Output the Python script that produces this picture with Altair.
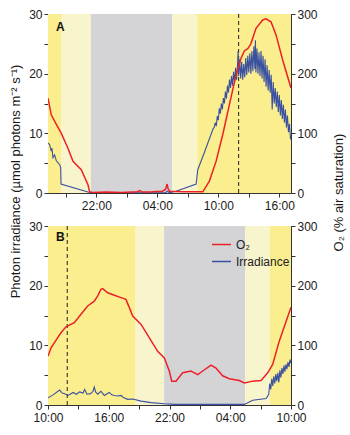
import altair as alt
import pandas as pd

RED = "#EC2127"
BLUE = "#3A50A2"
YEL = "#FAEE8E"
PALE = "#F8F4CC"
GREY = "#D4D4D6"

# ---------------- Panel A (hours counted from midnight of day 1) ----------------
a_o2_h = [17.25, 17.57, 18.07, 18.56, 19.21, 19.71, 20.52, 21.18, 21.34, 21.6,
          23.0, 24.5, 26.0, 26.3, 26.45, 26.6, 27.5, 28.5, 28.8, 28.97,
          29.05, 29.2, 30.5, 32.48, 33.12, 33.78, 34.44, 35.09, 35.75, 36.24,
          36.56, 36.9, 37.2, 37.71, 38.37, 38.69, 39.18, 39.68, 40.33, 41.15]
a_o2 = [159, 131, 115, 100, 75, 53, 39, 14, 2, 1,
        1.5, 1, 2, 4, 2, 1.5, 2, 3, 6, 15,
        8, 3, 2, 2, 20, 53, 98, 148, 198, 226,
        238, 242, 250, 276, 290, 292, 287, 265, 223, 176]

a_irr_h = [17.25, 17.41, 17.57, 17.64, 17.74, 17.9, 18.07, 18.4, 18.5, 18.53,
           21.18, 21.5, 28.8, 29.0, 29.2, 29.85, 31.82, 31.98, 32.5, 33.0,
           33.5, 33.6, 33.7, 33.8, 33.9, 34.0, 34.1, 34.2, 34.3, 34.4,
           34.5, 34.6, 34.7, 34.8, 34.9, 35.0, 35.1, 35.2, 35.3, 35.4,
           35.5, 35.6, 35.7, 35.8, 35.9, 35.95, 36.0, 36.1, 36.2, 36.3,
           36.4, 36.5, 36.6, 36.7, 36.8, 36.9, 37.0, 37.1, 37.2, 37.3,
           37.4, 37.5, 37.6, 37.65, 37.7, 37.8, 37.9, 38.0, 38.1, 38.2,
           38.3, 38.4, 38.5, 38.6, 38.7, 38.8, 38.9, 39.0, 39.1, 39.2,
           39.3, 39.4, 39.5, 39.6, 39.7, 39.8, 39.9, 40.0, 40.1, 40.2,
           40.3, 40.4, 40.5, 40.6, 40.7, 40.8, 40.9, 41.0, 41.1, 41.15]
a_irr = [8.4, 8.1, 7.0, 7.5, 5.9, 6.4, 5.4, 4.75, 4.2, 1.5,
         0.17, 0.05, 0.05, 0.3, 0.05, 0.28, 1.5, 3.9, 6.2, 8.5,
         10.8, 11.0, 11.8, 11.2, 12.9, 12.2, 14.2, 13.3, 15.0, 14.0,
         15.9, 15.0, 17.0, 15.8, 18.0, 16.8, 19.0, 17.6, 19.6, 18.0,
         20.3, 18.6, 21.0, 19.0, 21.8, 23.8, 19.6, 22.4, 19.2, 22.0,
         19.0, 21.6, 19.4, 22.6, 19.8, 23.0, 20.2, 23.4, 20.0, 23.8,
         20.4, 24.6, 20.8, 25.6, 20.2, 24.2, 20.0, 23.6, 19.6, 23.8,
         19.2, 23.0, 18.6, 22.4, 17.8, 21.4, 17.2, 20.6, 16.8, 19.8,
         14.0, 18.6, 15.0, 17.6, 14.4, 17.0, 13.6, 16.4, 13.0, 15.6,
         12.4, 14.8, 11.8, 14.0, 11.0, 13.0, 10.2, 11.6, 9.0, 9.6]

a_band_start = [17.25, 18.58, 21.47, 29.47, 31.93]
a_band_end = [18.58, 21.47, 29.47, 31.93, 41.15]
a_band_kind = ["day", "dusk", "night", "dusk", "day"]
a_dash = [36.0]
a_domain = [17.25, 41.15]
a_ticks = [19, 22, 25, 28, 31, 34, 37, 40]

# ---------------- Panel B ----------------
b_o2_h = [10.0, 10.3, 10.96, 11.28, 11.78, 12.6, 13.26, 13.92, 14.57, 14.91,
          15.23, 15.4, 15.9, 16.55, 17.21, 17.7, 18.37, 19.19, 20.0, 20.83,
          21.49, 21.98, 22.22, 22.64, 23.3, 24.12, 24.79, 25.28, 26.1, 26.59,
          27.25, 27.9, 28.89, 29.39, 30.22, 31.04, 31.7, 32.19, 32.84, 34.0]
b_o2 = [82, 96, 113, 121, 131, 138, 152, 166, 174, 183,
        194, 195, 188, 184, 180, 177, 149, 135, 113, 90,
        79, 57, 40, 40, 54, 57, 51, 57, 67, 62,
        49, 44, 41, 37, 40, 41, 54, 68, 107, 164]

b_irr_h = [10.0, 10.5, 11.15, 11.4, 11.65, 11.98, 12.48, 12.8, 13.13, 13.46,
           13.62, 13.85, 14.2, 14.45, 14.57, 14.7, 14.91, 15.23, 15.56, 16.05,
           16.3, 16.55, 16.9, 17.21, 17.5, 17.87, 18.37, 19.19, 20.17, 21.49,
           22.5, 29.39, 30.22, 31.55, 31.8, 31.9, 32.0, 32.1, 32.2, 32.3,
           32.4, 32.5, 32.6, 32.7, 32.8, 32.9, 33.0, 33.1, 33.2, 33.3,
           33.4, 33.5, 33.6, 33.7, 33.8, 33.9, 34.0]
b_irr = [1.2, 1.7, 2.5, 2.0, 1.9, 1.6, 2.1, 1.8, 2.2, 2.0,
         2.6, 1.8, 1.9, 2.3, 3.0, 2.2, 1.8, 2.3, 1.6, 2.1,
         1.7, 1.6, 1.5, 1.6, 1.2, 0.95, 1.0, 0.65, 0.4, 0.2,
         0.1, 0.1, 0.8, 1.1, 1.8, 3.6, 2.6, 4.4, 3.2, 4.8,
         3.6, 5.2, 4.0, 5.4, 3.8, 5.8, 4.6, 6.2, 5.2, 6.6,
         5.6, 6.8, 6.0, 7.2, 6.4, 7.6, 7.0]

b_band_start = [10.0, 18.6, 21.47, 29.47, 31.93]
b_band_end = [18.6, 21.47, 29.47, 31.93, 34.0]
b_band_kind = ["day", "dusk", "night", "dusk", "day"]
b_dash = [11.9]
b_domain = [10.0, 34.0]
b_ticks = [10, 13, 16, 19, 22, 25, 28, 31, 34]

series_names = ["O\u2082", "Irradiance"]
left_title = "Photon irradiance (\u00b5mol photons m\u207b\u00b2 s\u207b\u00b9)"
right_title = "O\u2082 (% air saturation)"

W, H = 243, 179
XLABEL = ("datum.value % 6 == 4 ? ((datum.value % 24 < 10 ? '0' : '') + "
          "(datum.value % 24) + ':00') : ''")


def panel(o2_h, o2, irr_h, irr, bs, be, bk, dash, dom, ticks, letter, letter_y,
          first):
    xs = alt.Scale(domain=dom, nice=False, zero=False)
    x_axis = alt.Axis(values=ticks, labelExpr=XLABEL, title=None, grid=False,
                      labelFlush=False, labelOverlap=False, labelPadding=3.5)
    cscale = alt.Scale(domain=series_names, range=[RED, BLUE])
    if first:
        legend = None
    else:
        legend = alt.Legend(orient="none", legendX=163, legendY=8, title=None,
                            symbolType="stroke", symbolSize=361,
                            symbolStrokeWidth=1.5, labelFontSize=12,
                            rowPadding=0, padding=0, labelOffset=4,
                            labelColor="#222")

    bands = alt.Chart(pd.DataFrame({"s": bs, "e": be, "k": bk})).mark_rect().encode(
        x=alt.X("s:Q", scale=xs, axis=x_axis),
        x2="e:Q",
        fill=alt.Fill("k:N", scale=alt.Scale(domain=["day", "dusk", "night"],
                                             range=[YEL, PALE, GREY]), legend=None),
    )
    rule = alt.Chart(pd.DataFrame({"d": dash})).mark_rule(
        color="#222", strokeDash=[4, 3], strokeWidth=1).encode(
        x=alt.X("d:Q", scale=xs, axis=x_axis))

    left_axis_kw = dict(orient="left", values=[0, 5, 10, 15, 20, 25, 30],
                        labelExpr="datum.value % 10 == 0 ? datum.label : ''",
                        grid=False)
    right_axis_kw = dict(orient="right", values=[0, 50, 100, 150, 200, 250, 300],
                         labelExpr="datum.value % 100 == 0 ? datum.label : ''",
                         grid=False)
    if first:
        left_axis_kw.update(title=left_title, titleAngle=270, titleX=-33,
                            titleY=167, titleAlign="center",
                            titleBaseline="middle")
        right_axis_kw.update(title=right_title, titleAngle=270, titleX=47,
                             titleY=178, titleAlign="center",
                             titleBaseline="middle")
    else:
        left_axis_kw.update(title=None)
        right_axis_kw.update(title=None)

    irr_df = pd.DataFrame({"h": irr_h, "v": irr, "s": series_names[1]})
    o2_df = pd.DataFrame({"h": o2_h, "v": o2, "s": series_names[0]})

    irr_line = alt.Chart(irr_df).mark_line(strokeWidth=1.1, clip=True).encode(
        x=alt.X("h:Q", scale=xs, axis=x_axis),
        y=alt.Y("v:Q", scale=alt.Scale(domain=[0, 30], nice=False),
                axis=alt.Axis(**left_axis_kw)),
        color=alt.Color("s:N", scale=cscale, legend=legend),
    )
    o2_line = alt.Chart(o2_df).mark_line(strokeWidth=1.5, clip=True).encode(
        x=alt.X("h:Q", scale=xs, axis=x_axis),
        y=alt.Y("v:Q", scale=alt.Scale(domain=[0, 300], nice=False),
                axis=alt.Axis(**right_axis_kw)),
        color=alt.Color("s:N", scale=cscale, legend=legend),
    )
    txt = alt.Chart(pd.DataFrame({"t": [letter]})).mark_text(
        fontWeight="bold", fontSize=12, align="left", baseline="middle",
        font="Liberation Sans", color="#111").encode(
        x=alt.value(8), y=alt.value(letter_y), text="t:N")

    return alt.layer(bands, rule, irr_line, o2_line, txt).resolve_scale(
        y="independent").properties(width=W, height=H)


pa = panel(a_o2_h, a_o2, a_irr_h, a_irr, a_band_start, a_band_end, a_band_kind,
           a_dash, a_domain, a_ticks, "A", 13, True)
pb = panel(b_o2_h, b_o2, b_irr_h, b_irr, b_band_start, b_band_end, b_band_kind,
           b_dash, b_domain, b_ticks, "B", 11, False)

chart = alt.vconcat(pa, pb, spacing=33, bounds="flush").resolve_scale(
    color="independent", fill="independent"
).properties(
    padding={"left": 8, "top": 7, "right": 4, "bottom": 4}
).configure(
    font="Liberation Sans"
).configure_view(
    stroke="#8a8a8a", strokeWidth=1
).configure_axis(
    labelFont="Liberation Sans", labelFontSize=12, labelColor="#1a1a1a",
    titleFont="Liberation Sans", titleFontSize=13, titleFontWeight="normal",
    titleColor="#1a1a1a", domainColor="#333333", tickColor="#333333",
    tickSize=4, labelPadding=2, domainWidth=1
)

chart.save("out.html", embed_options={"renderer": "svg", "actions": False})
